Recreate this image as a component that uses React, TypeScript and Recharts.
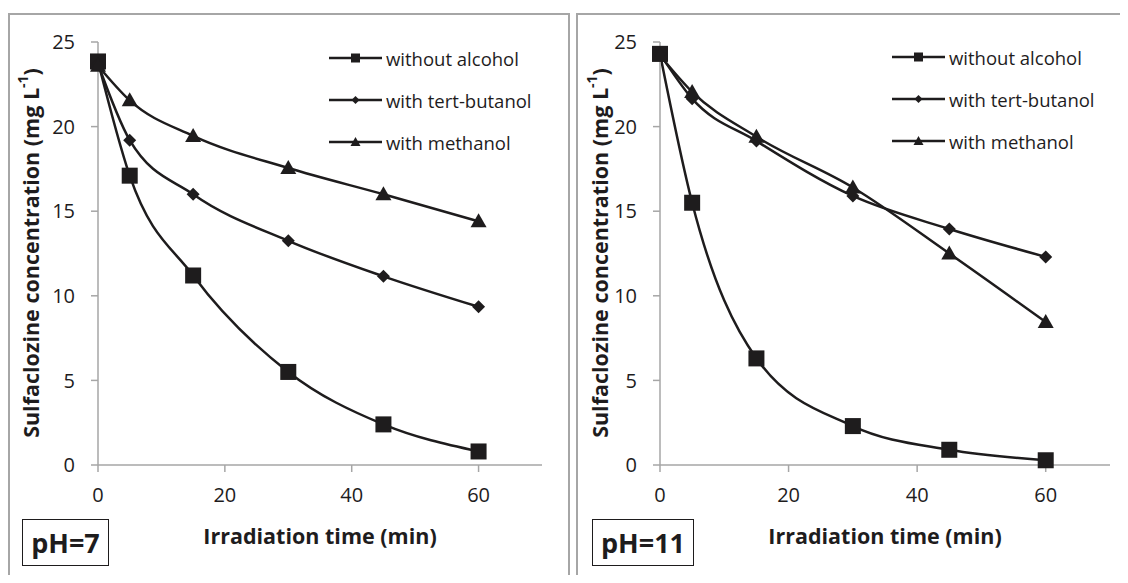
import React from 'react';
import { LineChart, Line, XAxis, YAxis } from 'recharts';

const TIMES = [0, 5, 15, 30, 45, 60];
const X_TICKS = [0, 20, 40, 60];
const Y_TICKS = [0, 5, 10, 15, 20, 25];
const SERIES_NAMES = ['without alcohol', 'with tert-butanol', 'with methanol'];

// pH = 7
const PH7_NONE = [23.85, 17.1, 11.2, 5.5, 2.4, 0.8];
const PH7_TBA = [23.7, 19.2, 16.0, 13.25, 11.15, 9.35];
const PH7_MEOH = [23.6, 21.55, 19.45, 17.55, 16.0, 14.4];

// pH = 11
const PH11_NONE = [24.3, 15.5, 6.3, 2.3, 0.9, 0.28];
const PH11_TBA = [24.3, 21.65, 19.15, 15.9, 13.95, 12.3];
const PH11_MEOH = [24.2, 22.05, 19.4, 16.4, 12.5, 8.45];

const INK = '#1e1c1d';
const AXIS = '#a6a6a6';
const FONT = '"Open Sans", "Liberation Sans", sans-serif';

const buildRows = (none: number[], tba: number[], meoh: number[]) =>
  TIMES.map((t, i) => ({ t, none: none[i], tba: tba[i], meoh: meoh[i] }));

const Square = (props: any) => {
  const { cx, cy, index } = props;
  return <rect key={`s${index}`} x={cx - 8} y={cy - 8} width={16} height={16} fill={INK} />;
};
const Diamond = (props: any) => {
  const { cx, cy, index } = props;
  const r = 6.5;
  return <path key={`d${index}`} d={`M${cx},${cy - r}L${cx + r},${cy}L${cx},${cy + r}L${cx - r},${cy}Z`} fill={INK} />;
};
const Triangle = (props: any) => {
  const { cx, cy, index } = props;
  return <path key={`t${index}`} d={`M${cx},${cy - 8}L${cx + 8},${cy + 6}L${cx - 8},${cy + 6}Z`} fill={INK} />;
};

const legendMarks = [
  (x: number, y: number) => <rect x={x - 4.5} y={y - 4.5} width={9} height={9} fill={INK} />,
  (x: number, y: number) => <path d={`M${x},${y - 4}L${x + 4},${y}L${x},${y + 4}L${x - 4},${y}Z`} fill={INK} />,
  (x: number, y: number) => <path d={`M${x},${y - 5}L${x + 5},${y + 4}L${x - 5},${y + 4}Z`} fill={INK} />,
];

const LegendBox = ({ left, top }: { left: number; top: number }) => (
  <div style={{ position: 'absolute', left, top, fontFamily: FONT, fontSize: 18.5, color: INK }}>
    {SERIES_NAMES.map((name, i) => (
      <div key={name} style={{ display: 'flex', alignItems: 'center', height: 42 }}>
        <svg width={53} height={20} style={{ display: 'block' }}>
          <line x1={0} y1={10} x2={53} y2={10} stroke={INK} strokeWidth={2.5} />
          {legendMarks[i](26.5, 10)}
        </svg>
        <span style={{ marginLeft: 4, whiteSpace: 'nowrap' }}>{name}</span>
      </div>
    ))}
  </div>
);

const YTitle = ({ cx, cy }: { cx: number; cy: number }) => (
  <text
    x={cx}
    y={cy}
    transform={`rotate(-90, ${cx}, ${cy})`}
    textAnchor="middle"
    dominantBaseline="central"
    fontFamily={FONT}
    fontWeight="bold"
    fontSize={21.5}
    fill={INK}
  >
    Sulfaclozine concentration (mg L
    <tspan dy={-8} fontSize={14}>-1</tspan>
    <tspan dy={8}>)</tspan>
  </text>
);

interface PanelProps {
  data: { t: number; none: number; tba: number; meoh: number }[];
  width: number;
  marginLeft: number;
  marginRight: number;
  titleX: number;
}

const Panel = ({ data, width, marginLeft, marginRight, titleX }: PanelProps) => {
  const plotLeft = marginLeft + 60;
  const plotRight = width - marginRight;
  return (
    <LineChart
      width={width}
      height={570}
      data={data}
      margin={{ top: 29, right: marginRight, left: marginLeft, bottom: 88 }}
    >
      <XAxis
        dataKey="t"
        type="number"
        domain={[0, 70]}
        ticks={X_TICKS}
        height={30}
        stroke={AXIS}
        strokeWidth={1.5}
        tickSize={7}
        tickMargin={16}
        tick={{ fill: INK, fontSize: 20, fontFamily: FONT }}
        label={() => (
          <text
            x={(plotLeft + plotRight) / 2}
            y={522}
            textAnchor="middle"
            dominantBaseline="central"
            fontFamily={FONT}
            fontWeight="bold"
            fontSize={21.5}
            fill={INK}
          >
            Irradiation time (min)
          </text>
        )}
      />
      <YAxis
        type="number"
        domain={[0, 25]}
        ticks={Y_TICKS}
        width={60}
        stroke={AXIS}
        strokeWidth={1.5}
        tickSize={7}
        tickMargin={16}
        tick={{ fill: INK, fontSize: 20, fontFamily: FONT }}
        label={() => <YTitle cx={titleX} cy={240} />}
      />
      <Line type="monotone" dataKey="none" stroke={INK} strokeWidth={2.5} dot={Square} isAnimationActive={false} />
      <Line type="monotone" dataKey="tba" stroke={INK} strokeWidth={2.5} dot={Diamond} isAnimationActive={false} />
      <Line type="monotone" dataKey="meoh" stroke={INK} strokeWidth={2.5} dot={Triangle} isAnimationActive={false} />
    </LineChart>
  );
};

const PhBox = ({ left, width, text }: { left: number; width: number; text: string }) => (
  <div
    style={{
      position: 'absolute',
      left,
      top: 511,
      width,
      height: 47,
      boxSizing: 'border-box',
      border: `1.5px solid ${INK}`,
      display: 'flex',
      alignItems: 'center',
      justifyContent: 'center',
      fontFamily: FONT,
      fontWeight: 'bold',
      fontSize: 27,
      color: INK,
      background: '#fff',
    }}
  >
    {text}
  </div>
);

const panelBorder = (left: number, width: number): React.CSSProperties => ({
  position: 'absolute',
  left,
  top: 5,
  width,
  height: 570,
  boxSizing: 'border-box',
  border: `2px solid ${AXIS}`,
  borderBottom: 'none',
});

export default function App() {
  const ph7 = buildRows(PH7_NONE, PH7_TBA, PH7_MEOH);
  const ph11 = buildRows(PH11_NONE, PH11_TBA, PH11_MEOH);
  return (
    <div style={{ position: 'relative', width: 1112, height: 567, background: '#fff' }}>
      <div style={panelBorder(0, 562)} />
      <div style={panelBorder(568, 552)} />
      <div style={{ position: 'absolute', left: 0, top: 5 }}>
        <Panel data={ph7} width={561} marginLeft={30} marginRight={27} titleX={22} />
      </div>
      <div style={{ position: 'absolute', left: 568, top: 5 }}>
        <Panel data={ph11} width={552} marginLeft={24} marginRight={18} titleX={23} />
      </div>
      <LegendBox left={321} top={29} />
      <LegendBox left={884} top={28} />
      <PhBox left={14} width={87} text="pH=7" />
      <PhBox left={584} width={102} text="pH=11" />
    </div>
  );
}
